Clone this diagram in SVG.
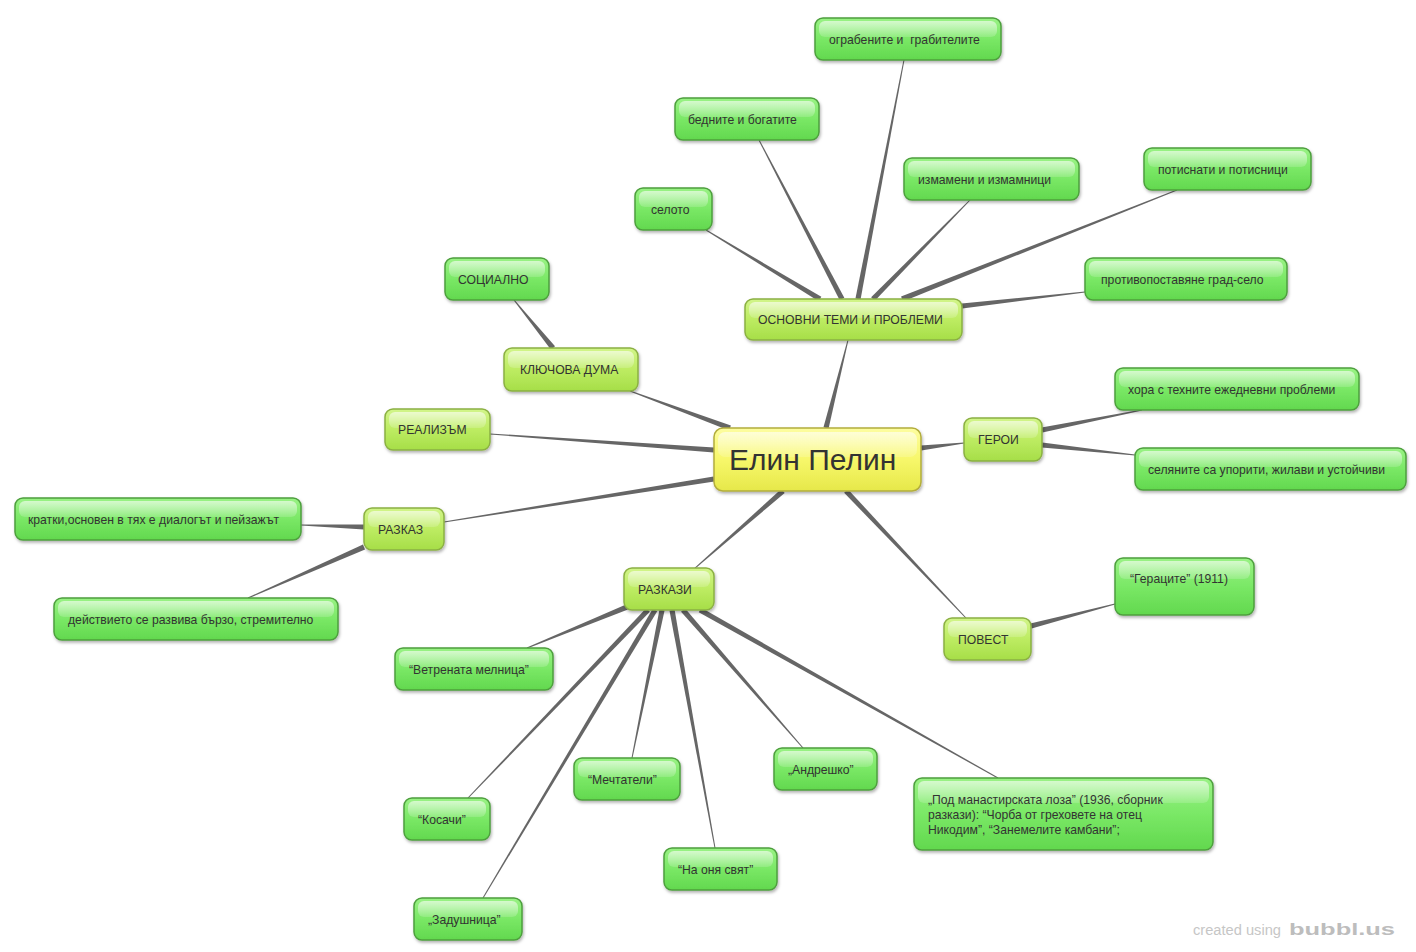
<svg xmlns="http://www.w3.org/2000/svg" xmlns:xlink="http://www.w3.org/1999/xlink" width="1416" height="952" viewBox="0 0 1416 952">
<defs>
<linearGradient id="gG" x1="0" y1="0" x2="0" y2="1">
<stop offset="0" stop-color="#9af285"/><stop offset="0.5" stop-color="#7ae866"/><stop offset="1" stop-color="#62d84e"/>
</linearGradient>
<linearGradient id="gL" x1="0" y1="0" x2="0" y2="1">
<stop offset="0" stop-color="#d2f58a"/><stop offset="0.5" stop-color="#bdec62"/><stop offset="1" stop-color="#a6de48"/>
</linearGradient>
<linearGradient id="gY" x1="0" y1="0" x2="0" y2="1">
<stop offset="0" stop-color="#fdfda0"/><stop offset="0.5" stop-color="#f7f76a"/><stop offset="1" stop-color="#e6e84a"/>
</linearGradient>
<linearGradient id="gH" x1="0" y1="0" x2="0" y2="1">
<stop offset="0" stop-color="#ffffff" stop-opacity="0.6"/><stop offset="1" stop-color="#ffffff" stop-opacity="0.15"/>
</linearGradient>
<filter id="sh" x="-10%" y="-20%" width="125%" height="150%">
<feDropShadow dx="1" dy="2" stdDeviation="1.5" flood-color="#000" flood-opacity="0.3"/>
</filter>
<polygon id="tp" points="0,-2.6 1,-0.5 1,0.5 0,2.6"/>
</defs>
<style>
.g .b{fill:url(#gG);stroke:#4e9f3e;stroke-width:1.5}
.l .b{fill:url(#gL);stroke:#8bb043;stroke-width:1.5}
.y .b{fill:url(#gY);stroke:#b3ad3c;stroke-width:1.5}
.b{filter:url(#sh)}
.h{fill:url(#gH)}
text{font-family:"Liberation Sans",Arial,sans-serif;font-size:12.2px;fill:#333}
.big{font-size:30px;fill:#333}
#connectors use{fill:#666}
.wm{fill:#c6c6c6;font-size:14px}
.logo{fill:#bdbdbd;font-size:16px;font-weight:bold}
</style>
<rect width="1416" height="952" fill="#ffffff"/>
<g id="connectors">
<use xlink:href="#tp" transform="translate(826,428) rotate(-75.96) scale(90.71,1)"/>
<use xlink:href="#tp" transform="translate(730,428) rotate(-159.7) scale(106.6,1)"/>
<use xlink:href="#tp" transform="translate(714,450) rotate(-175.91) scale(224.57,1)"/>
<use xlink:href="#tp" transform="translate(714,479) rotate(170.95) scale(273.4,1)"/>
<use xlink:href="#tp" transform="translate(783,491) rotate(138.81) scale(116.93,1)"/>
<use xlink:href="#tp" transform="translate(921,448) rotate(-6.63) scale(43.29,1)"/>
<use xlink:href="#tp" transform="translate(846,491) rotate(46.63) scale(174.7,1)"/>
<use xlink:href="#tp" transform="translate(858,299) rotate(-79.11) scale(243.39,1)"/>
<use xlink:href="#tp" transform="translate(842,299) rotate(-117.57) scale(179.36,1)"/>
<use xlink:href="#tp" transform="translate(820,299) rotate(-148.82) scale(133.26,1)"/>
<use xlink:href="#tp" transform="translate(873,299) rotate(-45.58) scale(138.6,1)"/>
<use xlink:href="#tp" transform="translate(902,299) rotate(-21.62) scale(295.8,1)"/>
<use xlink:href="#tp" transform="translate(962,306) rotate(-6.49) scale(123.8,1)"/>
<use xlink:href="#tp" transform="translate(553,348) rotate(-129.09) scale(61.85,1)"/>
<use xlink:href="#tp" transform="translate(1042,430) rotate(-11.31) scale(101.98,1)"/>
<use xlink:href="#tp" transform="translate(1042,445) rotate(6.14) scale(93.54,1)"/>
<use xlink:href="#tp" transform="translate(364,527) rotate(-178.18) scale(63.03,1)"/>
<use xlink:href="#tp" transform="translate(364,547) rotate(156.27) scale(126.7,1)"/>
<use xlink:href="#tp" transform="translate(1031,626) rotate(-14.68) scale(86.83,1)"/>
<use xlink:href="#tp" transform="translate(627,607) rotate(157.71) scale(108.08,1)"/>
<use xlink:href="#tp" transform="translate(648,610) rotate(133.76) scale(260.28,1)"/>
<use xlink:href="#tp" transform="translate(655,610) rotate(120.85) scale(335.45,1)"/>
<use xlink:href="#tp" transform="translate(662,610) rotate(101.46) scale(151.01,1)"/>
<use xlink:href="#tp" transform="translate(672,610) rotate(79.76) scale(241.85,1)"/>
<use xlink:href="#tp" transform="translate(683,610) rotate(48.99) scale(182.88,1)"/>
<use xlink:href="#tp" transform="translate(700,610) rotate(29.42) scale(342.09,1)"/>
</g>

<g id="center" class="y"><rect class="b" x="714" y="428" width="207" height="63" rx="9"/><rect class="h" x="718" y="432" width="199" height="25" rx="7"/><text class="big" x="729" y="470">Елин Пелин</text></g>

<g id="osnovni" class="l"><rect class="b" x="745" y="299" width="217" height="41" rx="8"/><rect class="h" x="749" y="302" width="209" height="16" rx="6"/><text x="758" y="324">ОСНОВНИ ТЕМИ И ПРОБЛЕМИ</text></g>
<g id="klyuchova" class="l"><rect class="b" x="504" y="348" width="134" height="43" rx="8"/><rect class="h" x="508" y="351" width="126" height="17" rx="6"/><text x="520" y="374">КЛЮЧОВА ДУМА</text></g>
<g id="realizam" class="l"><rect class="b" x="385" y="409" width="105" height="41" rx="8"/><rect class="h" x="389" y="412" width="97" height="16" rx="6"/><text x="398" y="434">РЕАЛИЗЪМ</text></g>
<g id="razkaz" class="l"><rect class="b" x="364" y="508" width="80" height="42" rx="8"/><rect class="h" x="368" y="511" width="72" height="16" rx="6"/><text x="378" y="534">РАЗКАЗ</text></g>
<g id="razkazi" class="l"><rect class="b" x="624" y="568" width="90" height="42" rx="8"/><rect class="h" x="628" y="571" width="82" height="16" rx="6"/><text x="638" y="594">РАЗКАЗИ</text></g>
<g id="geroi" class="l"><rect class="b" x="964" y="418" width="78" height="43" rx="8"/><rect class="h" x="968" y="421" width="70" height="17" rx="6"/><text x="978" y="444">ГЕРОИ</text></g>
<g id="povest" class="l"><rect class="b" x="944" y="618" width="87" height="42" rx="8"/><rect class="h" x="948" y="621" width="79" height="16" rx="6"/><text x="958" y="644">ПОВЕСТ</text></g>

<g id="ograbenite" class="g"><rect class="b" x="815" y="18" width="186" height="42" rx="8"/><rect class="h" x="819" y="21" width="178" height="16" rx="6"/><text x="829" y="44" xml:space="preserve">ограбените и  грабителите</text></g>
<g id="bednite" class="g"><rect class="b" x="675" y="98" width="144" height="42" rx="8"/><rect class="h" x="679" y="101" width="136" height="16" rx="6"/><text x="688" y="124">бедните и богатите</text></g>
<g id="seloto" class="g"><rect class="b" x="635" y="188" width="77" height="42" rx="8"/><rect class="h" x="639" y="191" width="69" height="16" rx="6"/><text x="651" y="214">селото</text></g>
<g id="izmameni" class="g"><rect class="b" x="904" y="158" width="175" height="42" rx="8"/><rect class="h" x="908" y="161" width="167" height="16" rx="6"/><text x="918" y="184">измамени и измамници</text></g>
<g id="potisnati" class="g"><rect class="b" x="1144" y="148" width="167" height="42" rx="8"/><rect class="h" x="1148" y="151" width="159" height="16" rx="6"/><text x="1158" y="174">потиснати и потисници</text></g>
<g id="protivopostavyane" class="g"><rect class="b" x="1085" y="258" width="202" height="42" rx="8"/><rect class="h" x="1089" y="261" width="194" height="16" rx="6"/><text x="1101" y="284">противопоставяне град-село</text></g>
<g id="sotsialno" class="g"><rect class="b" x="445" y="258" width="104" height="42" rx="8"/><rect class="h" x="449" y="261" width="96" height="16" rx="6"/><text x="458" y="284">СОЦИАЛНО</text></g>
<g id="hora" class="g"><rect class="b" x="1115" y="368" width="244" height="42" rx="8"/><rect class="h" x="1119" y="371" width="236" height="16" rx="6"/><text x="1128" y="394">хора с техните ежедневни проблеми</text></g>
<g id="selyanite" class="g"><rect class="b" x="1135" y="448" width="271" height="42" rx="8"/><rect class="h" x="1139" y="451" width="263" height="16" rx="6"/><text x="1148" y="474">селяните са упорити, жилави и устойчиви</text></g>
<g id="kratki" class="g"><rect class="b" x="15" y="498" width="286" height="42" rx="8"/><rect class="h" x="19" y="501" width="278" height="16" rx="6"/><text x="28" y="524">кратки,основен в тях е диалогът и пейзажът</text></g>
<g id="deystvieto" class="g"><rect class="b" x="54" y="598" width="284" height="42" rx="8"/><rect class="h" x="58" y="601" width="276" height="16" rx="6"/><text x="68" y="624">действието се развива бързо, стремително</text></g>
<g id="geratsite" class="g"><rect class="b" x="1115" y="558" width="139" height="57" rx="8"/><rect class="h" x="1119" y="561" width="131" height="18" rx="6"/><text x="1130" y="583">“Гераците” (1911)</text></g>
<g id="vetrenata" class="g"><rect class="b" x="395" y="648" width="158" height="42" rx="8"/><rect class="h" x="399" y="651" width="150" height="16" rx="6"/><text x="409" y="674">“Ветрената мелница”</text></g>
<g id="kosachi" class="g"><rect class="b" x="404" y="798" width="86" height="42" rx="8"/><rect class="h" x="408" y="801" width="78" height="16" rx="6"/><text x="418" y="824">“Косачи”</text></g>
<g id="mechtateli" class="g"><rect class="b" x="574" y="758" width="106" height="42" rx="8"/><rect class="h" x="578" y="761" width="98" height="16" rx="6"/><text x="588" y="784">“Мечтатели”</text></g>
<g id="andreshko" class="g"><rect class="b" x="774" y="748" width="103" height="42" rx="8"/><rect class="h" x="778" y="751" width="95" height="16" rx="6"/><text x="788" y="774">„Андрешко”</text></g>
<g id="na-onya-svyat" class="g"><rect class="b" x="664" y="848" width="113" height="42" rx="8"/><rect class="h" x="668" y="851" width="105" height="16" rx="6"/><text x="678" y="874">“На оня свят”</text></g>
<g id="zadushnitsa" class="g"><rect class="b" x="414" y="898" width="108" height="42" rx="8"/><rect class="h" x="418" y="901" width="100" height="16" rx="6"/><text x="428" y="924">„Задушница”</text></g>
<g id="pod-manastirskata" class="g"><rect class="b" x="914" y="778" width="299" height="72" rx="8"/><rect class="h" x="918" y="781" width="291" height="22" rx="6"/><text x="928" y="804">„Под манастирската лоза” (1936, сборник</text><text x="928" y="819">разкази): “Чорба от греховете на отец</text><text x="928" y="834">Никодим”, “Занемелите камбани”;</text></g>

<g id="watermark"><text class="wm" x="1193" y="935" textLength="88" lengthAdjust="spacingAndGlyphs">created using</text><text class="logo" x="1289" y="935" textLength="106" lengthAdjust="spacingAndGlyphs">bubbl.us</text></g>
</svg>
